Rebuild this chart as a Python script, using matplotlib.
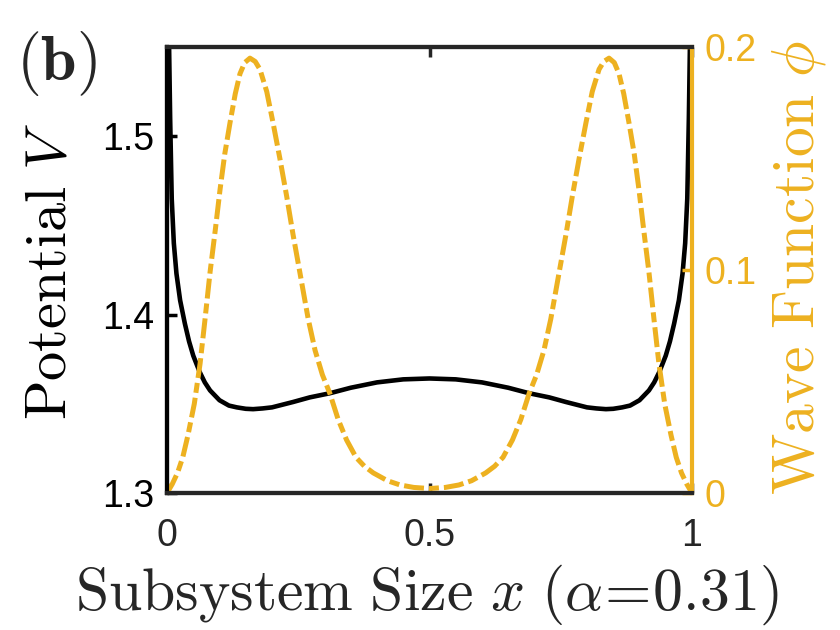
import matplotlib
matplotlib.use("Agg")
import matplotlib.pyplot as plt

plt.rcParams['mathtext.fontset'] = 'cm'
plt.rcParams['font.family'] = ['Liberation Sans', 'DejaVu Sans']

# Potential V (left axis)
x_pot = [0.000, 0.002, 0.004, 0.006, 0.009, 0.013, 0.018, 0.025, 0.034, 0.042,
         0.050, 0.062, 0.072, 0.082, 0.100, 0.118, 0.133, 0.150, 0.164, 0.182,
         0.200, 0.220, 0.240, 0.272, 0.310, 0.350, 0.400, 0.450, 0.500,
         0.550, 0.600, 0.650, 0.690, 0.728, 0.760, 0.780, 0.800, 0.818, 0.836,
         0.850, 0.867, 0.882, 0.900, 0.918, 0.928, 0.938, 0.950, 0.958, 0.966,
         0.975, 0.982, 0.987, 0.991, 0.994, 0.996, 0.998, 1.000]
v_pot = [1.650, 1.590, 1.550, 1.510, 1.465, 1.440, 1.423, 1.408, 1.395, 1.385,
         1.377, 1.368, 1.362, 1.3575, 1.352, 1.349, 1.348, 1.3472, 1.347, 1.3474,
         1.348, 1.3495, 1.351, 1.3536, 1.3559, 1.359, 1.362, 1.3637, 1.3642,
         1.3637, 1.362, 1.359, 1.3559, 1.3536, 1.351, 1.3495, 1.348, 1.3474, 1.347,
         1.3472, 1.348, 1.349, 1.352, 1.3575, 1.362, 1.368, 1.377, 1.385, 1.395,
         1.408, 1.423, 1.440, 1.465, 1.510, 1.550, 1.590, 1.650]

# Wave function phi (right axis)
x_phi = [0.000, 0.010, 0.020, 0.030, 0.040, 0.052, 0.063, 0.072, 0.082, 0.092,
         0.101, 0.110, 0.120, 0.130, 0.139, 0.148, 0.158, 0.168, 0.177, 0.190,
         0.202, 0.215, 0.228, 0.240, 0.253, 0.269, 0.282, 0.296, 0.310, 0.326,
         0.342, 0.360, 0.376, 0.393, 0.420, 0.444, 0.470, 0.500,
         0.530, 0.556, 0.580, 0.607, 0.624, 0.640, 0.658, 0.674, 0.690, 0.704,
         0.718, 0.731, 0.747, 0.760, 0.772, 0.785, 0.798, 0.810, 0.823, 0.832,
         0.842, 0.852, 0.861, 0.870, 0.880, 0.890, 0.899, 0.908, 0.918, 0.928,
         0.937, 0.948, 0.960, 0.970, 0.980, 0.990, 1.000]
y_phi = [0.000, 0.004, 0.009, 0.016, 0.026, 0.040, 0.058, 0.077, 0.099, 0.118,
         0.136, 0.152, 0.166, 0.179, 0.188, 0.193, 0.195, 0.1935, 0.190, 0.180,
         0.166, 0.150, 0.133, 0.116, 0.099, 0.078, 0.064, 0.053, 0.0448, 0.033,
         0.0238, 0.016, 0.012, 0.009, 0.0055, 0.0036, 0.0025, 0.002,
         0.0025, 0.0036, 0.0055, 0.009, 0.012, 0.016, 0.0238, 0.033, 0.0448, 0.053,
         0.064, 0.078, 0.099, 0.116, 0.133, 0.150, 0.166, 0.180, 0.190, 0.1935,
         0.195, 0.193, 0.188, 0.179, 0.166, 0.152, 0.136, 0.118, 0.099, 0.077,
         0.058, 0.040, 0.026, 0.016, 0.009, 0.004, 0.000]

x_ticks = [0, 0.5, 1]
x_ticklabels = ['0', '0.5', '1']
v_ticks = [1.3, 1.4, 1.5]
v_ticklabels = ['1.3', '1.4', '1.5']
phi_ticks = [0, 0.1, 0.2]
phi_ticklabels = ['0', '0.1', '0.2']

ORANGE = '#EDB120'
GRAY = '#262626'

fig = plt.figure(figsize=(8.4, 6.3), dpi=100)
ax = fig.add_axes([167/840, 137/630, 525/840, 446/630])
ax2 = ax.twinx()

ax.plot(x_pot, v_pot, color='black', lw=3.3, solid_joinstyle='round', zorder=3)
ax2.plot(x_phi, y_phi, color=ORANGE, lw=3.6, dashes=(4, 1, 2, 1),
         dash_capstyle='butt', zorder=2)

ax.set_xlim(0, 1)
ax.set_ylim(1.3, 1.55)
ax2.set_ylim(0, 0.2)

ax.set_xticks(x_ticks)
ax.set_xticklabels(x_ticklabels)
ax.set_yticks(v_ticks)
ax.set_yticklabels(v_ticklabels)
ax2.set_yticks(phi_ticks)
ax2.set_yticklabels(phi_ticklabels)

ax.tick_params(axis='x', direction='in', length=7, width=2.5, colors=GRAY,
               labelcolor='#262626', labelsize=27, pad=18, top=True)
ax.tick_params(axis='y', direction='in', length=7, width=2.5, colors='black',
               labelsize=27, pad=9)
ax2.tick_params(axis='y', direction='in', length=7, width=2.5, colors=ORANGE,
                labelsize=27, pad=9)

for a in (ax, ax2):
    a.spines['top'].set_color(GRAY)
    a.spines['bottom'].set_color(GRAY)
    for s in a.spines.values():
        s.set_linewidth(3.0)
ax.spines['left'].set_color('black')
ax2.spines['left'].set_color('black')
ax2.spines['right'].set_color(ORANGE)
ax.spines['right'].set_visible(False)

ax.set_xlabel(r'$\mathrm{Subsystem\ Size}\ x\ (\alpha\!=\!0.31)$', fontsize=43,
              color='#262626')
ax.xaxis.set_label_coords(0.495, -0.229)
ax.xaxis.label.set_verticalalignment('center')

ax.set_ylabel(r'$\mathrm{Potential}\ V$', fontsize=42, color='black')
ax.yaxis.set_label_coords((51 - 167) / 525, 0.497)
ax.yaxis.label.set_verticalalignment('center')

ax2.set_ylabel(r'$\mathrm{Wave\ Function}\ \phi$', fontsize=43, color=ORANGE)
ax2.yaxis.set_label_coords((799 - 167) / 525, 0.505)
ax2.yaxis.label.set_verticalalignment('center')

fig.text(56/840, 1 - 64/630, r'$\mathbf{(b)}$', fontsize=46, ha='center',
         va='center', color='#262626')

fig.savefig('out.png', dpi=100)
